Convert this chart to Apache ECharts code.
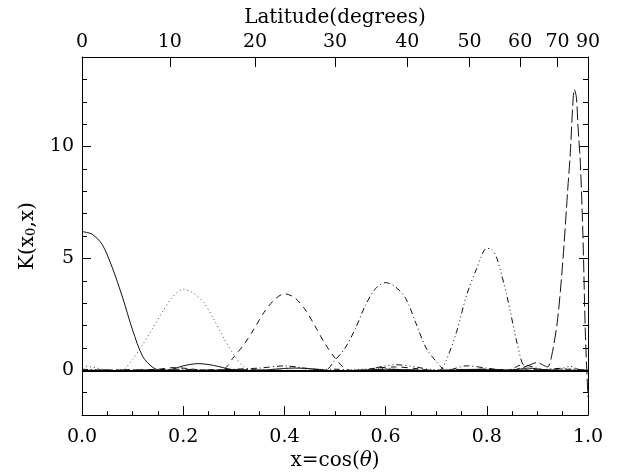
<!DOCTYPE html>
<html>
<head>
<meta charset="utf-8">
<script src="https://cdn.jsdelivr.net/npm/echarts@6/dist/echarts.min.js"></script>
<style>html,body{margin:0;padding:0;background:#fff;}#c{width:617px;height:476px;}</style>
</head>
<body>
<div id="c"></div>
<script>
// ---- tick labels ----
const xLabelValues = [0.0, 0.2, 0.4, 0.6, 0.8, 1.0];
const latLabels = [0, 10, 20, 30, 40, 50, 60, 70, 90];
const yLabelValues = [0, 5, 10];
const yMinorValues = [-1, 1, 2, 3, 4, 6, 7, 8, 9, 11, 12, 13];

// ---- series (x, K) ----
const k0x = [0, 0.02, 0.04, 0.06, 0.08, 0.10, 0.12, 0.14, 0.16, 0.18, 0.20, 0.23, 0.26, 0.30, 0.34, 0.38, 0.42, 0.46, 0.50, 0.55, 0.60, 0.65, 0.70, 0.75, 0.80, 0.85, 0.88, 0.92, 0.96, 1.0];
const k0y = [6.2, 6.08, 5.62, 4.58, 3.27, 1.8, 0.62, 0.13, -0.03, 0.06, 0.2, 0.3, 0.22, 0.02, -0.02, 0.05, 0.1, 0.06, -0.02, 0.0, 0.05, 0.02, -0.02, 0.02, 0.03, 0.0, 0.1, 0.02, 0.0, 0.0];

const k1x = [0, 0.02, 0.04, 0.06, 0.08, 0.10, 0.12, 0.14, 0.16, 0.18, 0.20, 0.22, 0.24, 0.26, 0.28, 0.30, 0.32, 0.34, 0.38, 0.42, 0.46, 0.50, 0.55, 0.60, 0.65, 0.70, 0.75, 0.80, 0.85, 0.90, 0.95, 1.0];
const k1y = [0.2, 0.15, 0.05, -0.05, 0.0, 0.5, 1.15, 1.9, 2.65, 3.3, 3.62, 3.45, 3.05, 2.3, 1.45, 0.7, 0.15, -0.05, 0.05, 0.12, 0.05, -0.03, 0.05, 0.08, 0.0, 0.03, 0.05, 0.0, 0.05, 0.02, 0.08, 0.0];

const k2x = [0.0, 0.05, 0.10, 0.15, 0.18, 0.21, 0.25, 0.28, 0.30, 0.32, 0.34, 0.36, 0.38, 0.40, 0.42, 0.44, 0.46, 0.48, 0.50, 0.52, 0.54, 0.58, 0.62, 0.66, 0.70, 0.75, 0.80, 0.85, 0.90, 0.95, 1.0];
const k2y = [0.0, -0.03, 0.0, 0.05, 0.12, 0.08, -0.02, 0.05, 0.6, 1.15, 1.85, 2.6, 3.15, 3.42, 3.25, 2.75, 2.0, 1.2, 0.55, 0.08, -0.03, 0.1, 0.15, 0.08, -0.02, 0.03, 0.05, 0.0, 0.03, 0.0, 0.0];

const k3x = [0, 0.05, 0.10, 0.15, 0.20, 0.25, 0.30, 0.35, 0.40, 0.44, 0.48, 0.50, 0.52, 0.54, 0.56, 0.58, 0.60, 0.62, 0.64, 0.66, 0.68, 0.70, 0.72, 0.76, 0.80, 0.84, 0.87, 0.92, 0.96, 1.0];
const k3y = [0.05, 0.0, -0.02, 0.03, 0.05, 0.0, 0.05, 0.1, 0.2, 0.1, 0.0, 0.45, 1.0, 1.85, 2.9, 3.65, 3.92, 3.72, 3.2, 2.1, 1.0, 0.4, 0.0, 0.2, 0.1, -0.02, 0.25, 0.0, 0.05, 0.0];

const k4x = [0, 0.1, 0.2, 0.3, 0.4, 0.5, 0.55, 0.6, 0.62, 0.66, 0.70, 0.71, 0.72, 0.74, 0.76, 0.78, 0.80, 0.81, 0.82, 0.84, 0.86, 0.875, 0.89, 0.92, 0.95, 0.965, 0.98, 1.0];
const k4y = [0.0, 0.02, 0.0, 0.03, -0.02, 0.05, 0.0, 0.2, 0.25, 0.15, 0.0, 0.05, 0.45, 1.7, 3.35, 4.55, 5.45, 5.4, 5.0, 3.3, 1.2, 0.05, -0.05, 0.05, 0.1, 0.18, 0.05, 0.0];

const k5x = [0, 0.1, 0.2, 0.3, 0.4, 0.5, 0.6, 0.7, 0.8, 0.85, 0.88, 0.90, 0.91, 0.92, 0.93, 0.94, 0.95, 0.96, 0.965, 0.97, 0.973, 0.977, 0.98, 0.985, 0.99, 0.995, 1.0];
const k5y = [0, 0.02, 0, 0.03, 0, -0.02, 0.03, 0, 0.05, 0.02, 0.2, 0.35, 0.25, 0.15, 0.85, 2.3, 4.8, 8.1, 9.7, 11.9, 12.55, 12.2, 11.0, 9.2, 6.0, 1.5, -1.2];

const pairs = (xs, ys) => xs.map((x, i) => [x, ys[i]]);

const FONT = 'DejaVu Serif';
const txt = { fontFamily: FONT, fontSize: 19, color: '#000' };

function mkSeries(name, xs, ys, dash, color) {
  return {
    name, type: 'line', xAxisIndex: 0, yAxisIndex: 0,
    data: pairs(xs, ys), showSymbol: false, symbol: 'none',
    smooth: 0.3,
    lineStyle: { color: color || '#000', width: 1, type: dash },
    silent: true, z: 3
  };
}

const series = [
  mkSeries('k0', k0x, k0y, 'solid', '#111'),
  mkSeries('k1', k1x, k1y, [1, 3], '#444'),
  mkSeries('k2', k2x, k2y, [6, 5], '#111'),
  mkSeries('k3', k3x, k3y, [6, 3, 1, 3], '#111'),
  mkSeries('k4', k4x, k4y, [6, 3, 1, 3, 1, 3, 1, 3], '#111'),
  mkSeries('k5', k5x, k5y, [13, 4], '#111')
];
series[0].markLine = {
  silent: true, symbol: 'none', label: { show: false },
  lineStyle: { color: '#000', width: 2, type: 'solid' },
  data: [{ yAxis: 0 }]
};

const frame = { show: true, onZero: false, lineStyle: { color: '#000', width: 1 } };
const noLine = { show: false, onZero: false };
const latPos = latLabels.map(l => Math.sin(l * Math.PI / 180));

const option = {
  animation: false,
  backgroundColor: '#fff',
  grid: { left: 82, right: 29, top: 57, bottom: 60 },
  xAxis: [
    {
      type: 'value', position: 'bottom', min: 0, max: 1, interval: 0.2,
      axisLine: frame,
      axisTick: { show: true, inside: true, length: 9, lineStyle: { color: '#000' } },
      minorTick: { show: true, splitNumber: 4, length: 4, lineStyle: { color: '#000' } },
      splitLine: { show: false },
      axisLabel: Object.assign({ margin: 12, formatter: v => v.toFixed(1), customValues: xLabelValues }, txt),
      name: 'x=cos({it|θ})', nameLocation: 'middle', nameGap: 32,
      nameTextStyle: Object.assign({}, txt, { fontSize: 20, rich: { it: { fontFamily: FONT, fontSize: 20, fontStyle: 'italic', color: '#000' } } })
    },
    {
      type: 'value', position: 'top', min: 0, max: 1,
      axisLine: frame,
      axisTick: { show: true, inside: true, length: 10, lineStyle: { color: '#000', width: 1 }, customValues: latPos },
      splitLine: { show: false },
      axisLabel: Object.assign({ margin: 5, customValues: latPos,
        formatter: v => String(Math.round(Math.asin(Math.min(1, v)) * 180 / Math.PI)) }, txt),
      name: 'Latitude(degrees)', nameLocation: 'middle', nameGap: 25,
      nameTextStyle: Object.assign({}, txt, { fontSize: 20 })
    }
  ],
  yAxis: [
    {
      type: 'value', position: 'left', min: -2, max: 14,
      axisLine: frame,
      axisTick: { show: true, inside: true, length: 9, lineStyle: { color: '#000' }, customValues: yLabelValues },
      splitLine: { show: false },
      axisLabel: Object.assign({ margin: 8, customValues: yLabelValues }, txt),
      name: 'K(x{sub|0},x)', nameLocation: 'middle', nameGap: 44,
      nameTextStyle: Object.assign({}, txt, { fontSize: 20, rich: { sub: { fontFamily: FONT, fontSize: 13, color: '#000', verticalAlign: 'bottom', padding: [8, 0, 0, 0] } } })
    },
    {
      type: 'value', position: 'left', min: -2, max: 14,
      axisLine: noLine,
      axisTick: { show: true, inside: true, length: 5, lineStyle: { color: '#000' }, customValues: yMinorValues },
      splitLine: { show: false }, axisLabel: { show: false }
    },
    {
      type: 'value', position: 'right', min: -2, max: 14,
      axisLine: frame,
      axisTick: { show: true, inside: true, length: 9, lineStyle: { color: '#000' }, customValues: yLabelValues },
      splitLine: { show: false }, axisLabel: { show: false }
    },
    {
      type: 'value', position: 'right', min: -2, max: 14,
      axisLine: noLine,
      axisTick: { show: true, inside: true, length: 5, lineStyle: { color: '#000' }, customValues: yMinorValues },
      splitLine: { show: false }, axisLabel: { show: false }
    }
  ],
  series
};

const chart = echarts.init(document.getElementById('c'), null, { renderer: 'canvas' });
chart.setOption(option);
</script>
</body>
</html>
